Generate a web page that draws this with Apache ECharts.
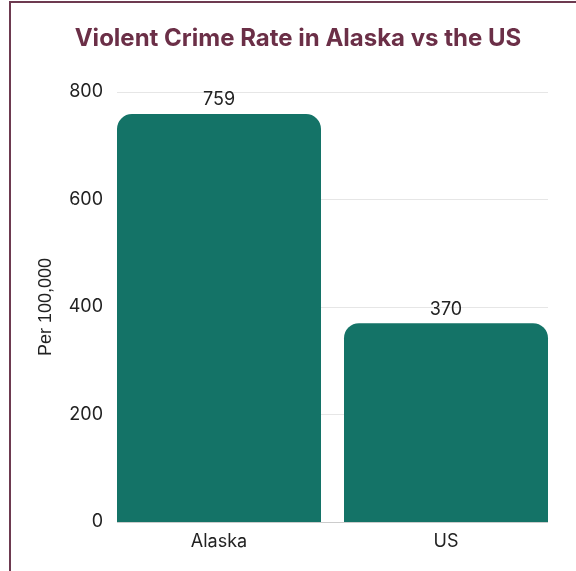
<!DOCTYPE html>
<html>
<head>
<meta charset="utf-8">
<script src="https://cdn.jsdelivr.net/npm/echarts@6/dist/echarts.min.js"></script>
<style>
  html, body { margin: 0; padding: 0; background: #fff; }
  #chart { width: 576px; height: 571px; }
  .frame {
    position: absolute; left: 9px; top: 1px; right: -5px; bottom: -5px;
    border-left: 2px solid #6d3a50; border-top: 2px solid #6d3a50;
    pointer-events: none;
  }
</style>
</head>
<body>
<div id="chart"></div>
<div class="frame"></div>
<script>
const categories = ['Alaska', 'US'];
const rates = [759, 370];
const yTicks = [0, 200, 400, 600, 800];

const chart = echarts.init(document.getElementById('chart'));
const gridTop = 92, gridBottom = 571 - 522;

chart.setOption({
    animation: false,
    textStyle: { fontFamily: 'Inter' },
    title: {
        text: 'Violent Crime Rate in Alaska vs the US',
        left: 293,
        textAlign: 'center',
        top: 22,
        textStyle: { color: '#6b2f47', fontSize: 24, fontWeight: 'bold', fontFamily: 'Inter' }
    },
    grid: [
        // axis + gridlines
        { left: 117, right: 28, top: gridTop, bottom: gridBottom },
        // bars
        { left: 105.5, right: 16.5, top: gridTop, bottom: gridBottom }
    ],
    xAxis: [
        { gridIndex: 0, type: 'category', data: categories, show: false },
        {
            gridIndex: 1, type: 'category', data: categories,
            axisTick: { show: false },
            axisLine: { show: false },
            axisLabel: { color: '#222', fontSize: 18, margin: 11 }
        }
    ],
    yAxis: [
        {
            gridIndex: 0, type: 'value', min: yTicks[0], max: yTicks[yTicks.length - 1], interval: 200,
            name: 'Per 100,000', nameLocation: 'middle', nameGap: 62, nameRotate: 90,
            nameTextStyle: { color: '#222', fontSize: 18, fontFamily: 'Liberation Sans' },
            axisLabel: { color: '#222', fontSize: 18, margin: 14, padding: [6, 0, 0, 0] },
            axisLine: { show: false },
            axisTick: { show: false },
            splitLine: { lineStyle: { color: '#e6e6e6' } }
        },
        {
            gridIndex: 1, type: 'value', min: yTicks[0], max: yTicks[yTicks.length - 1], interval: 200,
            show: false
        }
    ],
    series: [
        {
            // baseline
            type: 'line', xAxisIndex: 0, yAxisIndex: 0, data: [],
            markLine: {
                silent: true, symbol: 'none', label: { show: false },
                lineStyle: { color: '#cccccc', type: 'solid', width: 1 },
                data: [{ yAxis: 0 }]
            }
        },
        {
            type: 'bar', xAxisIndex: 1, yAxisIndex: 1,
            data: rates,
            barWidth: 204,
            itemStyle: { color: '#147367', borderRadius: [15, 15, 0, 0] },
            label: { show: true, position: 'top', distance: 5, color: '#222', fontSize: 18 }
        }
    ]
});
</script>
</body>
</html>
